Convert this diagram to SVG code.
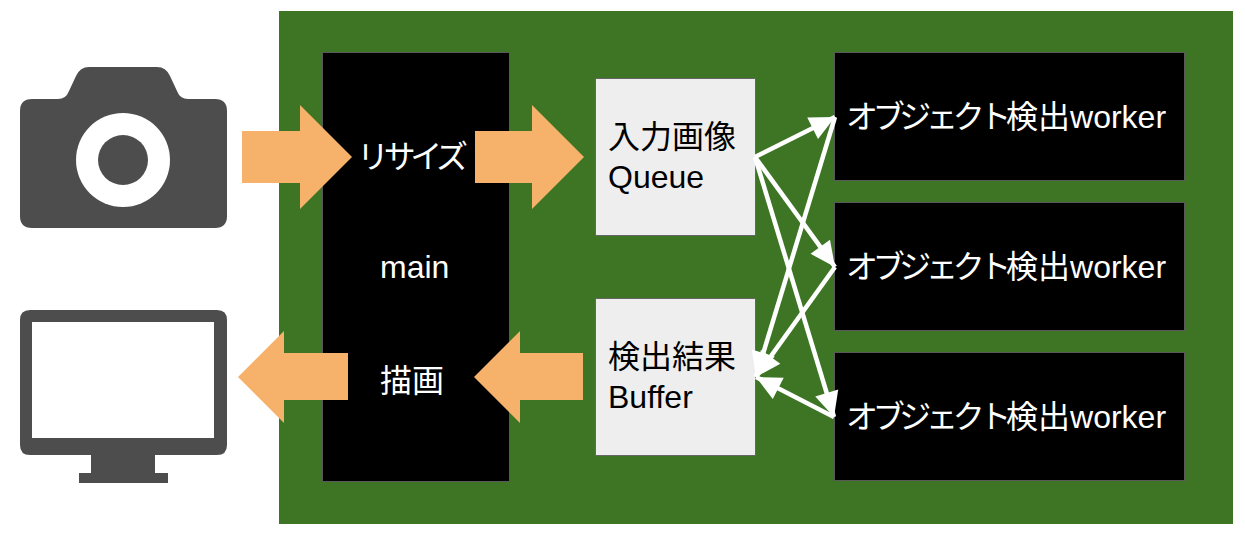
<svg xmlns="http://www.w3.org/2000/svg" width="1245" height="535" viewBox="0 0 1245 535">
<style>
text{font-family:"Liberation Sans","Noto Sans CJK JP",sans-serif;font-size:32px}
.t{letter-spacing:-5.33px}
.k{fill:#000;stroke:#595959;stroke-width:1}
.q{fill:#eee;stroke:#666;stroke-width:1}
.w{fill:#fff}
.b{fill:#000}
.o{fill:#f6b26b}
.i{fill:#4d4d4d}
.c{stroke:#fff;stroke-width:4.500;fill:none;marker-end:url(#h)}
</style>
<defs><marker id="h" markerUnits="userSpaceOnUse" markerWidth="30" markerHeight="30" refX="25" refY="12" orient="auto" overflow="visible"><path d="M0 0L25 12L0 24Z" fill="#fff"/></marker></defs>
<rect x="279" y="11" width="954" height="513" id="panel" style="fill:#3d7524"/>
<g id="camera"><path class="i" d="M32 99H58Q66 99 69 91L76 76Q80 67 89 67H157Q166 67 170 76L177 91Q180 99 188 99H215Q227 99 227 111V216Q227 228 215 228H32Q20 228 20 216V111Q20 99 32 99Z"/><circle cx="123" cy="160" r="47" fill="#fff"/><circle cx="123" cy="160" r="25" class="i"/></g>
<g id="monitor"><path class="i" fill-rule="evenodd" d="M30 310H217Q227 310 227 320V445Q227 455 217 455H155V473H168V483H79V473H91V455H30Q20 455 20 445V320Q20 310 30 310ZM32 322V438H214V322Z"/><rect x="32" y="322" width="182" height="116" fill="#fff"/></g>
<g id="main"><rect class="k" x="322.500" y="52.500" width="187" height="429"/><text class="w" x="380" y="278">main</text></g>
<g id="queue"><rect class="q" x="595.500" y="78.500" width="160" height="157"/><text class="b" x="608" y="148">入力画像</text><text class="b" x="608" y="188">Queue</text></g>
<g id="buffer"><rect class="q" x="595.500" y="298.500" width="160" height="157"/><text class="b" x="608" y="368">検出結果</text><text class="b" x="608" y="408">Buffer</text></g>
<g id="worker1"><rect class="k" x="834.500" y="52.500" width="350" height="128"/><text class="w" x="846" y="128"><tspan class="t">オブジェクト</tspan>検出worker</text></g>
<g id="worker2"><rect class="k" x="834.500" y="202.500" width="350" height="128"/><text class="w" x="846" y="278"><tspan class="t">オブジェクト</tspan>検出worker</text></g>
<g id="worker3"><rect class="k" x="834.500" y="352.500" width="350" height="128"/><text class="w" x="846" y="428"><tspan class="t">オブジェクト</tspan>検出worker</text></g>
<g id="connectors">
<path class="c" d="M755 157L835 117"/>
<path class="c" d="M755 157L835 267"/>
<path class="c" d="M755 157L834 417"/>
<path class="c" d="M835 117L756 377"/>
<path class="c" d="M835 267L756 377"/>
<path class="c" d="M834 417L756 377"/>
<path class="o" d="M242 131H300V105L352 157L300 209V183H242Z"/>
<path class="o" d="M475 131H532V105L584 157L532 209V183H475Z"/>
<path class="o" d="M348 353H284V331L238 377L284 423V400H348Z"/>
<path class="o" d="M583 353H520V331L474 377L520 423V400H583Z"/>
</g>
<g id="labels"><text class="w t" x="357" y="168">リサイズ</text><text class="w" x="380" y="392">描画</text></g>
</svg>
